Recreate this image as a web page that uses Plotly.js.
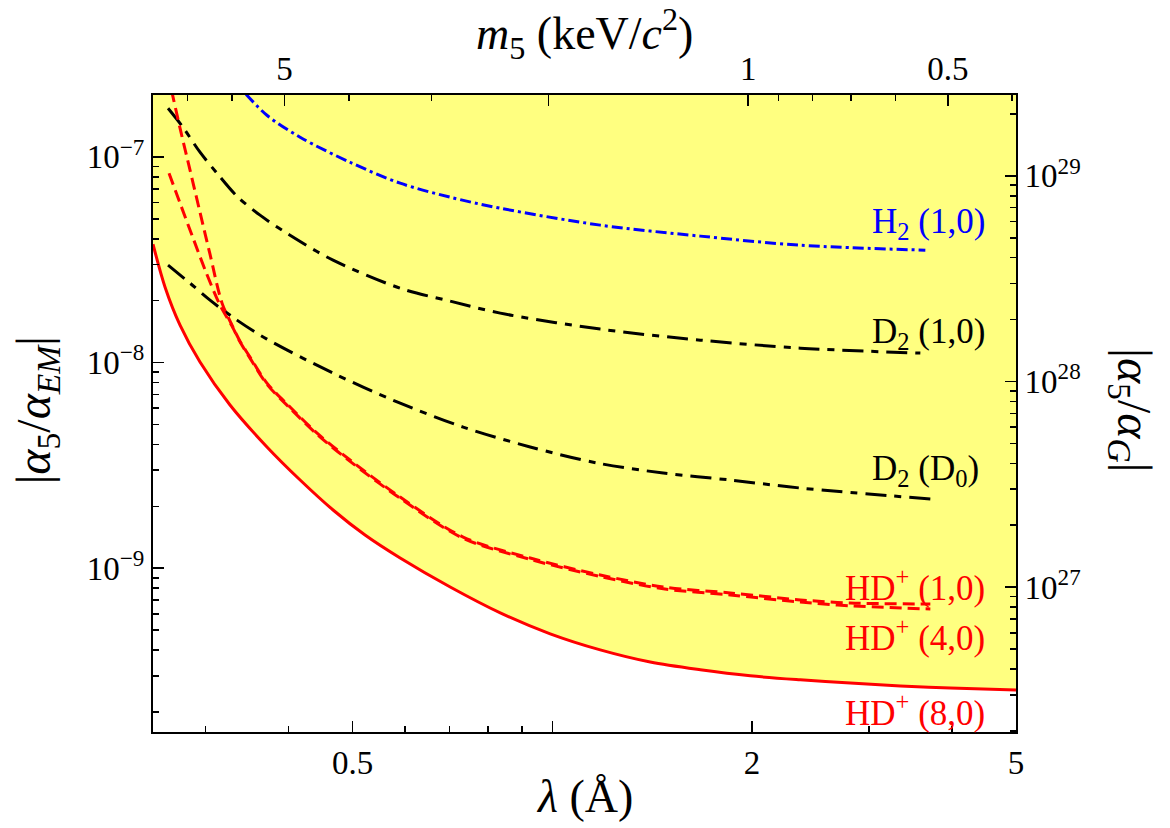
<!DOCTYPE html>
<html><head><meta charset="utf-8">
<script src="https://cdn.plot.ly/plotly-3.0.1.min.js"></script>
<style>body{margin:0;background:#fff}#chart{width:1170px;height:828px}</style>
</head><body><div id="chart"></div>
<script>
// ---- data (lambda in Angstrom, |alpha5/alphaEM|) ----
const hd80Lam   = [0.25, 0.2607, 0.2746, 0.2943, 0.3266, 0.3713, 0.4166, 0.4671, 0.5219, 0.5896, 0.7014, 0.8346, 0.9925, 1.1808, 1.4046, 1.6713, 1.9879, 2.3649, 2.8133, 3.3469, 3.981, 5.0];
const hd80Alpha = [3.765e-8, 2.327e-8, 1.521e-8, 1.006e-8, 6.22e-9, 3.89e-9, 2.686e-9, 1.92e-9, 1.451e-9, 1.122e-9, 8.11e-10, 6.07e-10, 4.80e-10, 4.01e-10, 3.50e-10, 3.21e-10, 3.00e-10, 2.87e-10, 2.77e-10, 2.68e-10, 2.62e-10, 2.56e-10];

const hd10Lam   = [0.2666, 0.2746, 0.2843, 0.2943, 0.3047, 0.3177, 0.3289, 0.3381, 0.3501, 0.3713, 0.4023, 0.4419, 0.4955, 0.5896, 0.7337, 0.9258, 1.1808, 1.4695, 1.8549, 2.3649, 2.8133, 3.714];
const hd10Alpha = [2.11e-7, 1.379e-7, 8.62e-8, 5.38e-8, 3.366e-8, 1.946e-8, 1.521e-8, 1.272e-8, 1.063e-8, 7.95e-9, 6.08e-9, 4.54e-9, 3.36e-9, 2.22e-9, 1.419e-9, 1.122e-9, 9.28e-10, 8.11e-10, 7.59e-10, 7.02e-10, 6.78e-10, 6.71e-10];

const hd40Lam   = [0.2643, 0.2746, 0.2873, 0.3005, 0.3155, 0.3289, 0.3381, 0.3501, 0.3713, 0.4023, 0.4419, 0.4955, 0.5896, 0.7337, 0.9258, 1.1808, 1.4695, 1.8549, 2.3649, 2.8133, 3.714];
const hd40Alpha = [8.33e-8, 5.96e-8, 4.03e-8, 2.753e-8, 1.903e-8, 1.504e-8, 1.262e-8, 1.052e-8, 7.85e-9, 6.0e-9, 4.48e-9, 3.31e-9, 2.19e-9, 1.40e-9, 1.105e-9, 9.12e-10, 7.95e-10, 7.42e-10, 6.85e-10, 6.57e-10, 6.34e-10];

const d210Lam   = [0.2634, 0.2774, 0.2943, 0.3122, 0.3346, 0.3625, 0.4023, 0.4671, 0.5896, 0.7014, 0.8346, 1.1808, 1.6713, 2.3649, 3.5875];
const d210Alpha = [1.724e-7, 1.394e-7, 1.054e-7, 8.33e-8, 6.44e-8, 5.21e-8, 4.16e-8, 3.148e-8, 2.30e-8, 1.99e-8, 1.74e-8, 1.455e-8, 1.286e-8, 1.176e-8, 1.112e-8];

const d2D0Lam   = [0.2634, 0.2843, 0.3047, 0.3346, 0.3713, 0.4671, 0.5795, 0.7337, 0.9258, 1.1686, 1.4695, 1.8549, 2.3649, 3.714];
const d2D0Alpha = [2.977e-8, 2.433e-8, 2.012e-8, 1.609e-8, 1.30e-8, 8.89e-9, 6.50e-9, 4.86e-9, 3.89e-9, 3.25e-9, 2.904e-9, 2.686e-9, 2.456e-9, 2.172e-9];

const h210Lam   = [0.3453, 0.3713, 0.4166, 0.4955, 0.5896, 0.7014, 0.8346, 1.1808, 1.6713, 2.3649, 3.650];
const h210Alpha = [2.017e-7, 1.594e-7, 1.246e-7, 9.42e-8, 7.45e-8, 6.37e-8, 5.63e-8, 4.66e-8, 4.12e-8, 3.72e-8, 3.52e-8];

// ---- axes ----
const lamRange = [0.25, 5];
const alphaRange = [1.6e-10, 2e-7];
const lamMajor = [0.5, 1, 2, 5];
const lamMajorText = ["0.5", "", "2", "5"];
const lamMinor = [0.3, 0.4, 0.6, 0.7, 0.8, 0.9, 3, 4];
const massMajor = [5, 2, 1, 0.5];            // keV/c^2
const massMajorText = ["5", "", "1", "0.5"];
const massMinor = [7, 6, 4, 3, 0.9, 0.8, 0.7, 0.6, 0.4];
const alphaMajor = [1e-9, 1e-8, 1e-7];
const alphaMajorText = ["10<sup>\u22129</sup>", "10<sup>\u22128</sup>", "10<sup>\u22127</sup>"];
const gMajor = [1e27, 1e28, 1e29];
const gMajorText = ["10<sup>27</sup>", "10<sup>28</sup>", "10<sup>29</sup>"];

const HBARC = 1.97327;        // keV * Angstrom : lambda = hbar/(m c)
const EM_OVER_G = 1.2356e36;  // alpha_EM / alpha_G

function minorDecades(lo, hi) {
  const v = [];
  for (let e = lo; e <= hi; e++) for (let k = 2; k <= 9; k++) v.push(k * Math.pow(10, e));
  return v;
}

const FONT = "'Liberation Serif', 'Times New Roman', serif";
const lg = Math.log10;
const xr = [lg(lamRange[0]), lg(lamRange[1])];
const yr = [lg(alphaRange[0]), lg(alphaRange[1])];

const axisBase = {
  type: "log", showgrid: false, zeroline: false, showline: true,
  linecolor: "#000", linewidth: 2, ticks: "inside", ticklen: 11,
  tickwidth: 1.6, tickcolor: "#000", tickmode: "array",
  tickfont: {family: FONT, size: 33, color: "#000"}
};
function minorCfg(vals) {
  return {tickmode: "array", tickvals: vals, ticks: "inside", ticklen: 6, tickwidth: 1.6, tickcolor: "#000", showgrid: false};
}
const SM = {shape: "spline", smoothing: 0.9};

const traces = [
  {x: hd80Lam, y: hd80Lam.map(() => 1e-5), mode: "lines", line: Object.assign({width: 0, color: "rgba(0,0,0,0)"}, SM), hoverinfo: "skip"},
  {x: hd80Lam, y: hd80Alpha, mode: "lines", fill: "tonexty", fillcolor: "#FFFF80", line: Object.assign({color: "#FF0000", width: 3}, SM)},
  {x: d2D0Lam, y: d2D0Alpha, mode: "lines", line: Object.assign({color: "#000", width: 3, dash: "21px,8px,7px,8px"}, SM)},
  {x: d210Lam, y: d210Alpha, mode: "lines", line: Object.assign({color: "#000", width: 3, dash: "21px,8px,7px,8px"}, SM)},
  {x: h210Lam, y: h210Alpha, mode: "lines", line: Object.assign({color: "#0000FF", width: 3, dash: "11px,4px,3px,4px"}, SM)},
  {x: hd40Lam, y: hd40Alpha, mode: "lines", line: Object.assign({color: "#FF0000", width: 3, dash: "12px,6px"}, SM)},
  {x: hd10Lam, y: hd10Alpha, mode: "lines", line: Object.assign({color: "#FF0000", width: 3, dash: "12px,6px"}, SM)},
  // registers the top (m5) and right (alpha5/alphaG) axes
  {x: [], y: [], xaxis: "x2", yaxis: "y2", mode: "lines", hoverinfo: "skip"}
];

function lab(text, px, py, color) {
  return {xref: "paper", yref: "paper", x: px, y: py, xanchor: "left", yanchor: "middle",
          text: text, showarrow: false, font: {family: FONT, size: 35, color: color}};
}

const layout = {
  width: 1170, height: 828,
  margin: {l: 153, r: 154, t: 95, b: 96},
  paper_bgcolor: "#fff", plot_bgcolor: "#fff",
  showlegend: false,
  xaxis: Object.assign({}, axisBase, {range: xr, tickvals: lamMajor, ticktext: lamMajorText, minor: minorCfg(lamMinor), side: "bottom", anchor: "y"}),
  xaxis2: Object.assign({}, axisBase, {range: xr, overlaying: "x", side: "top", anchor: "y2",
          tickvals: massMajor.map(m => HBARC / m), ticktext: massMajorText,
          minor: minorCfg(massMinor.map(m => HBARC / m))}),
  yaxis: Object.assign({}, axisBase, {range: yr, tickvals: alphaMajor, ticktext: alphaMajorText, minor: minorCfg(minorDecades(-10, -7)), anchor: "x"}),
  yaxis2: Object.assign({}, axisBase, {range: [yr[0] + lg(EM_OVER_G), yr[1] + lg(EM_OVER_G)], overlaying: "y", side: "right", anchor: "x2",
          tickvals: gMajor, ticktext: gMajorText, minor: minorCfg(minorDecades(26, 29))}),
  annotations: [
    {xref: "paper", yref: "paper", x: 0.5, y: 1.0973, xanchor: "center", yanchor: "middle", showarrow: false,
     text: "<i>m</i><sub>5</sub> (keV/<i>c</i><sup>2</sup>)", font: {family: FONT, size: 46, color: "#000"}},
    {xref: "paper", yref: "paper", x: 0.5, y: -0.1013, xanchor: "center", yanchor: "middle", showarrow: false,
     text: "<i>λ</i> (Å)", font: {family: FONT, size: 46, color: "#000"}},
    {xref: "paper", yref: "paper", x: -0.1344, y: 0.505, xanchor: "center", yanchor: "middle", showarrow: false, textangle: -90,
     text: "|<i>α</i><sub>5</sub>/<i>α</i><sub><i>EM</i></sub>|", font: {family: FONT, size: 48, color: "#000"}},
    {xref: "paper", yref: "paper", x: 1.1333, y: 0.505, xanchor: "center", yanchor: "middle", showarrow: false, textangle: 90,
     text: "|<i>α</i><sub>5</sub>/<i>α</i><sub><i>G</i></sub>|", font: {family: FONT, size: 48, color: "#000"}},
    lab("H<sub>2</sub> (1,0)", 0.8308, 0.7986, "#0000FF"),
    lab("D<sub>2</sub> (1,0)", 0.8308, 0.6259, "#000"),
    lab("D<sub>2</sub> (D<sub>0</sub>)", 0.8308, 0.4105, "#000"),
    lab("HD<sup>+</sup> (1,0)", 0.7995, 0.2292, "#FF0000"),
    lab("HD<sup>+</sup> (4,0)", 0.7995, 0.1512, "#FF0000"),
    lab("HD<sup>+</sup> (8,0)", 0.7995, 0.0338, "#FF0000")
  ]
};

Plotly.newPlot("chart", traces, layout, {displayModeBar: false, staticPlot: true});
</script>
</body></html>
